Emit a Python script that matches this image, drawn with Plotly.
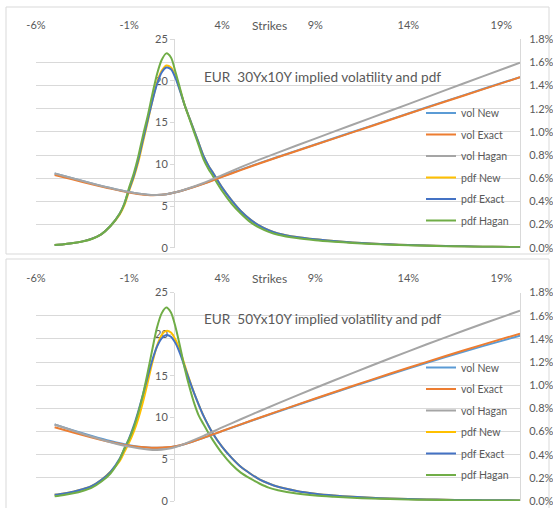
import plotly.graph_objects as go

# ---------------- data ----------------
# strike grid (in %) for the densities
pdf_strikes = [-5.0, -4.5, -4.0, -3.5, -3.0, -2.5, -2.0, -1.5, -1.25, -1.0, -0.75, -0.5, -0.25,
               0.0, 0.25, 0.5, 0.75, 1.0, 1.25, 1.5, 1.75, 2.0, 2.25, 2.5, 2.75, 3.0, 3.25, 3.5,
               4.0, 4.5, 5.0, 5.5, 6.0, 6.5, 7.0, 8.0, 9.0, 10.0, 11.0, 12.0, 13.0, 14.0, 15.0,
               16.0, 17.0, 18.0, 19.0, 20.0]

# EUR 30Yx10Y densities
pdf30_new = [0.32, 0.42, 0.55, 0.76, 1.07, 1.6, 2.6, 4.0, 5.1, 6.8, 8.4, 10.3, 12.7,
             15.1, 17.6, 19.8, 21.2, 21.85, 21.6, 20.5, 18.8, 17.0, 15.5, 14.0, 12.5, 11.0, 9.9, 9.0,
             7.2, 5.7, 4.4, 3.4, 2.65, 2.1, 1.72, 1.28, 1.0, 0.8, 0.63, 0.5, 0.4, 0.32, 0.25,
             0.2, 0.16, 0.12, 0.1, 0.08]
pdf30_exact = [0.32, 0.42, 0.55, 0.76, 1.07, 1.6, 2.6, 4.1, 5.3, 7.0, 8.6, 10.6, 13.0,
               15.3, 17.6, 19.6, 21.0, 21.6, 21.4, 20.3, 18.7, 17.0, 15.5, 14.0, 12.5, 11.0, 9.9, 9.0,
               7.2, 5.7, 4.4, 3.4, 2.65, 2.1, 1.72, 1.28, 1.0, 0.8, 0.63, 0.5, 0.4, 0.32, 0.25,
               0.2, 0.16, 0.12, 0.1, 0.08]
pdf30_hagan = [0.32, 0.42, 0.55, 0.75, 1.05, 1.6, 2.6, 4.1, 5.3, 7.2, 8.9, 11.0, 13.5,
               15.8, 18.4, 20.8, 22.5, 23.3, 22.8, 21.0, 19.0, 17.0, 15.4, 13.8, 12.2, 10.6, 9.5, 8.6,
               6.8, 5.3, 4.1, 3.1, 2.4, 1.9, 1.55, 1.15, 0.9, 0.72, 0.57, 0.45, 0.36, 0.29, 0.23,
               0.18, 0.14, 0.11, 0.09, 0.07]

# EUR 50Yx10Y densities
pdf50_new = [0.74, 0.9, 1.1, 1.4, 1.8, 2.5, 3.5, 4.8, 5.9, 7.0, 8.3, 9.9, 11.9,
             14.2, 16.6, 18.6, 19.9, 20.4, 20.2, 19.3, 17.9, 16.2, 14.5, 12.9, 11.5, 10.2, 9.1, 8.1,
             6.5, 5.2, 4.1, 3.3, 2.6, 2.1, 1.7, 1.2, 0.88, 0.66, 0.5, 0.39, 0.3, 0.24, 0.19,
             0.15, 0.12, 0.1, 0.08, 0.07]
pdf50_exact = [0.74, 0.9, 1.1, 1.4, 1.8, 2.5, 3.5, 5.1, 6.3, 7.5, 9.0, 10.8, 12.8,
               14.9, 16.9, 18.5, 19.5, 19.9, 19.7, 18.9, 17.6, 16.0, 14.4, 12.9, 11.5, 10.2, 9.1, 8.1,
               6.5, 5.2, 4.1, 3.3, 2.6, 2.1, 1.7, 1.2, 0.88, 0.66, 0.5, 0.39, 0.3, 0.24, 0.19,
               0.15, 0.12, 0.1, 0.08, 0.07]
pdf50_hagan = [0.56, 0.72, 0.92, 1.2, 1.6, 2.3, 3.3, 5.0, 6.3, 7.4, 8.8, 10.6, 12.8,
               15.4, 18.2, 20.8, 22.5, 23.2, 22.6, 20.8, 18.4, 15.8, 13.6, 11.7, 10.2, 9.2, 8.2, 7.3,
               5.7, 4.4, 3.4, 2.7, 2.1, 1.6, 1.3, 0.9, 0.65, 0.5, 0.38, 0.3, 0.23, 0.18, 0.14,
               0.11, 0.09, 0.07, 0.06, 0.05]

# strike grid (in %) for the implied volatilities
vol_strikes = [-5, -4, -3, -2, -1, 0, 0.5, 1, 1.5, 2, 3, 4, 5, 6, 8, 10, 12, 14, 16, 18, 20]

# implied volatility (in %)
vol30_new = [0.640, 0.598, 0.555, 0.515, 0.480, 0.457, 0.455, 0.462, 0.478, 0.500, 0.553,
             0.615, 0.674, 0.730, 0.838, 0.945, 1.052, 1.159, 1.265, 1.370, 1.473]
vol30_exact = [0.628, 0.588, 0.548, 0.510, 0.477, 0.455, 0.454, 0.461, 0.478, 0.500, 0.552,
               0.612, 0.670, 0.727, 0.835, 0.942, 1.049, 1.156, 1.262, 1.367, 1.471]
vol30_hagan = [0.640, 0.598, 0.555, 0.515, 0.480, 0.457, 0.455, 0.462, 0.478, 0.502, 0.559,
               0.627, 0.695, 0.760, 0.882, 1.002, 1.121, 1.240, 1.360, 1.479, 1.597]

vol50_new = [0.660, 0.610, 0.562, 0.518, 0.482, 0.462, 0.460, 0.462, 0.472, 0.492, 0.545,
             0.603, 0.660, 0.716, 0.826, 0.934, 1.040, 1.144, 1.242, 1.337, 1.428]
vol50_exact = [0.636, 0.592, 0.549, 0.510, 0.478, 0.462, 0.460, 0.463, 0.473, 0.492, 0.545,
               0.604, 0.662, 0.719, 0.830, 0.939, 1.046, 1.150, 1.252, 1.350, 1.445]
vol50_hagan = [0.660, 0.606, 0.554, 0.508, 0.470, 0.445, 0.440, 0.448, 0.466, 0.495, 0.562,
               0.635, 0.706, 0.775, 0.910, 1.040, 1.168, 1.292, 1.413, 1.530, 1.643]

strike_ticks = [-6, -1, 4, 9, 14, 19]
strike_labels = ["-6%", "-1%", "4%", "9%", "14%", "19%"]
pdf_ticks = [0, 5, 10, 15, 20, 25]
vol_ticks = [0.0, 0.2, 0.4, 0.6, 0.8, 1.0, 1.2, 1.4, 1.6, 1.8]
vol_labels = ["0.0%", "0.2%", "0.4%", "0.6%", "0.8%", "1.0%", "1.2%", "1.4%", "1.6%", "1.8%"]

series_names = ["vol New", "vol Exact", "vol Hagan", "pdf New", "pdf Exact", "pdf Hagan"]
series_colors = ["#5B9BD5", "#ED7D31", "#A5A5A5", "#FFC000", "#4472C4", "#70AD47"]

panels = [
    {"title": "EUR  30Yx10Y implied volatility and pdf",
     "vols": [vol30_new, vol30_exact, vol30_hagan],
     "pdfs": [pdf30_new, pdf30_exact, pdf30_hagan]},
    {"title": "EUR  50Yx10Y implied volatility and pdf",
     "vols": [vol50_new, vol50_exact, vol50_hagan],
     "pdfs": [pdf50_new, pdf50_exact, pdf50_hagan]},
]

# ---------------- geometry (pixels) ----------------
W, H = 553, 508
FONT = "Lato"
TXT = "#595959"
GRID = "#D9D9D9"


def fx(px):
    return px / W


def fy(py):
    return 1 - py / H


plot_x0, plot_x1 = 36, 520
pdf_axis_px = 174
panel_rows = [  # plot area top / bottom, box top / bottom, label row, title row, legend top
    {"top": 39.2, "bot": 247.7, "box": (7, 254), "lab": 25, "ttl": 77, "leg": 98.5},
    {"top": 292.5, "bot": 501.0, "box": (259, 530), "lab": 278, "ttl": 318.5, "leg": 353},
]

fig = go.Figure()
layout = {}
shapes = []
annotations = []

for i, (panel, row) in enumerate(zip(panels, panel_rows)):
    xa = "x" if i == 0 else "x2"
    ya_pdf = "y" if i == 0 else "y3"
    ya_vol = "y2" if i == 0 else "y4"
    legend_name = "legend" if i == 0 else "legend2"
    ydom = [fy(row["bot"]), fy(row["top"])]

    # densities on the left axis
    for k in range(3):
        fig.add_trace(go.Scatter(
            x=pdf_strikes, y=panel["pdfs"][k], mode="lines", name=series_names[3 + k],
            line=dict(color=series_colors[3 + k], width=2, shape="spline", smoothing=0.8),
            xaxis=xa, yaxis=ya_pdf, legend=legend_name, legendgroup=f"g{i}{3 + k}",
            legendrank=4 + k, hoverinfo="skip"))
    # implied vols on the right axis
    for k in range(3):
        fig.add_trace(go.Scatter(
            x=vol_strikes, y=panel["vols"][k], mode="lines", name=series_names[k],
            line=dict(color=series_colors[k], width=2, shape="spline", smoothing=0.8),
            xaxis=xa, yaxis=ya_vol, legend=legend_name, legendgroup=f"g{i}{k}",
            legendrank=1 + k, hoverinfo="skip"))

    layout["xaxis" if i == 0 else "xaxis2"] = dict(
        domain=[fx(plot_x0), fx(plot_x1)], range=[-6, 20], side="top",
        anchor=ya_pdf, tickvals=strike_ticks, ticktext=strike_labels,
        showgrid=False, zeroline=False, showline=False, automargin=False,
        ticks="outside", ticklen=5, tickcolor="rgba(0,0,0,0)",
        tickfont=dict(family=FONT, size=11, color=TXT))
    layout["yaxis" if i == 0 else "yaxis3"] = dict(
        domain=ydom, range=[0, 25], anchor="free", position=fx(pdf_axis_px),
        tickvals=pdf_ticks, showgrid=False, zeroline=False, automargin=False,
        showline=True, linecolor=GRID, linewidth=1,
        ticks="outside", ticklen=4, tickcolor=GRID, layer="below traces",
        tickfont=dict(family=FONT, size=11, color=TXT))
    layout["yaxis2" if i == 0 else "yaxis4"] = dict(
        overlaying=ya_pdf, side="right", anchor=xa, range=[0, 1.8],
        tickvals=vol_ticks, ticktext=vol_labels, automargin=False,
        showgrid=True, gridcolor=GRID, gridwidth=1, zeroline=False,
        showline=True, linecolor=GRID, linewidth=1,
        ticks="outside", ticklen=6, tickcolor="rgba(0,0,0,0)",
        tickfont=dict(family=FONT, size=11, color=TXT))

    layout[legend_name] = dict(
        x=fx(421), xanchor="left", y=fy(row["leg"]), yanchor="top",
        bgcolor="rgba(0,0,0,0)", borderwidth=0, tracegroupgap=2.5,
        font=dict(family=FONT, size=10.5, color=TXT), traceorder="grouped")

    shapes.append(dict(type="rect", xref="paper", yref="paper",
                       x0=fx(6), x1=fx(549), y0=fy(row["box"][1]), y1=fy(row["box"][0]),
                       line=dict(color=GRID, width=1), fillcolor="rgba(0,0,0,0)", layer="below"))
    annotations.append(dict(text="Strikes", xref="paper", yref="paper",
                            x=fx(269.5), y=fy(row["lab"]), xanchor="center", yanchor="middle",
                            showarrow=False, font=dict(family=FONT, size=12, color=TXT)))
    annotations.append(dict(text=panel["title"], xref="paper", yref="paper",
                            x=fx(202), y=fy(row["ttl"]), xanchor="left", yanchor="middle",
                            showarrow=False, font=dict(family=FONT, size=13.6, color=TXT)))

fig.update_layout(
    width=W, height=H, margin=dict(l=0, r=0, t=0, b=0, autoexpand=False),
    paper_bgcolor="white", plot_bgcolor="rgba(0,0,0,0)",
    showlegend=True, shapes=shapes, annotations=annotations,
    **layout)

fig.write_html("out.html")
